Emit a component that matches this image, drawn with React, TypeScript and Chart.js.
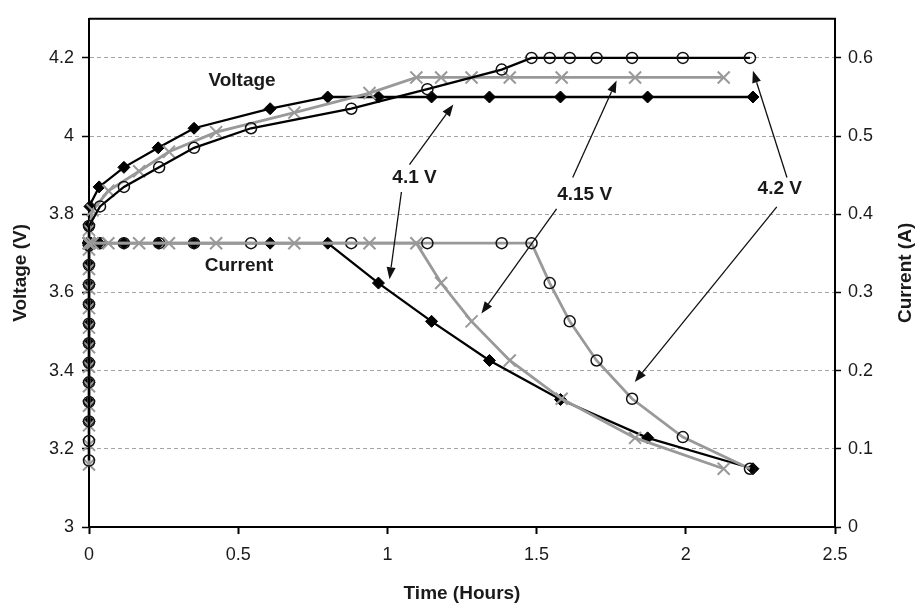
import React, { useEffect, useRef } from "react";
import { Chart, registerables } from "chart.js";

Chart.register(...registerables);

// ---------- tick labels ----------
const X_TICKS = [0, 0.5, 1, 1.5, 2, 2.5];
const V_TICKS = [3, 3.2, 3.4, 3.6, 3.8, 4, 4.2];
const I_TICKS = [0, 0.1, 0.2, 0.3, 0.4, 0.5, 0.6];

// ---------- 4.1 V charge (black diamonds) ----------
const T_41 = [0, 0, 0, 0, 0, 0, 0, 0, 0, 0, 0, 0.003, 0.034, 0.117, 0.232, 0.352, 0.607, 0.8, 0.97, 1.148, 1.342, 1.58, 1.872, 2.225];
const V_41 = [3.27, 3.32, 3.37, 3.42, 3.47, 3.52, 3.57, 3.62, 3.67, 3.72, 3.77, 3.82, 3.87, 3.92, 3.97, 4.02, 4.07, 4.1, 4.1, 4.1, 4.1, 4.1, 4.1, 4.1];
const I_41 = [0.363, 0.363, 0.363, 0.363, 0.363, 0.363, 0.363, 0.363, 0.363, 0.363, 0.363, 0.363, 0.363, 0.363, 0.363, 0.363, 0.363, 0.363, 0.312, 0.263, 0.213, 0.163, 0.114, 0.0745];

// ---------- 4.15 V charge (grey crosses) ----------
const T_415 = [0, 0, 0, 0, 0, 0, 0, 0, 0, 0, 0, 0, 0, 0.012, 0.065, 0.168, 0.268, 0.426, 0.688, 0.94, 1.097, 1.18, 1.282, 1.41, 1.584, 1.83, 2.127];
const V_415 = [3.16, 3.21, 3.26, 3.31, 3.36, 3.41, 3.46, 3.51, 3.56, 3.61, 3.66, 3.71, 3.76, 3.81, 3.86, 3.91, 3.96, 4.01, 4.06, 4.11, 4.15, 4.15, 4.15, 4.15, 4.15, 4.15, 4.15];
const I_415 = [0.363, 0.363, 0.363, 0.363, 0.363, 0.363, 0.363, 0.363, 0.363, 0.363, 0.363, 0.363, 0.363, 0.363, 0.363, 0.363, 0.363, 0.363, 0.363, 0.363, 0.363, 0.312, 0.263, 0.213, 0.164, 0.114, 0.0745];

// ---------- 4.2 V charge (open circles) ----------
const T_42 = [0, 0, 0, 0, 0, 0, 0, 0, 0, 0, 0, 0, 0, 0.037, 0.117, 0.235, 0.352, 0.543, 0.879, 1.134, 1.383, 1.483, 1.544, 1.611, 1.701, 1.82, 1.99, 2.215];
const V_42 = [3.17, 3.22, 3.27, 3.32, 3.37, 3.42, 3.47, 3.52, 3.57, 3.62, 3.67, 3.72, 3.77, 3.82, 3.87, 3.92, 3.97, 4.02, 4.07, 4.12, 4.17, 4.2, 4.2, 4.2, 4.2, 4.2, 4.2, 4.2];
const I_42 = [0.363, 0.363, 0.363, 0.363, 0.363, 0.363, 0.363, 0.363, 0.363, 0.363, 0.363, 0.363, 0.363, 0.363, 0.363, 0.363, 0.363, 0.363, 0.363, 0.363, 0.363, 0.363, 0.312, 0.263, 0.213, 0.164, 0.115, 0.0745];

// ---------- annotations (in data units: time, voltage) ----------
const NOTE_TEXT = ["Voltage", "Current", "4.1 V", "4.15 V", "4.2 V"];
const NOTE_T = [0.513, 0.503, 1.091, 1.661, 2.315];
const NOTE_V = [4.142, 3.667, 3.894, 3.851, 3.864];

const ARROW_FROM_T = [1.074, 1.047, 1.621, 1.567, 2.339, 2.305];
const ARROW_FROM_V = [3.927, 3.857, 3.894, 3.814, 3.894, 3.819];
const ARROW_TO_T = [1.221, 1.007, 1.768, 1.315, 2.225, 1.829];
const ARROW_TO_V = [4.081, 3.634, 4.142, 3.546, 4.167, 3.371];

const FONT_FAMILY = '"Liberation Sans", Arial, Helvetica, sans-serif';
const GRAY = "#999999";
const BLACK = "#000000";
const TEXT = "#1a1a1a";

const pts = (t: number[], v: number[]) => t.map((tt, i) => ({ x: tt, y: v[i] }));
const fmt = (v: any) => String(Math.round(Number(v) * 100) / 100);

const overlayPlugin = {
  id: "overlay",
  afterDatasetsDraw(chart: any) {
    const { ctx, chartArea } = chart;
    const xs = chart.scales.x;
    const ys = chart.scales.y;
    ctx.save();
    // arrows
    ctx.strokeStyle = "#111";
    ctx.fillStyle = "#111";
    ctx.lineWidth = 1.3;
    for (let i = 0; i < ARROW_FROM_T.length; i++) {
      const x1 = xs.getPixelForValue(ARROW_FROM_T[i]);
      const y1 = ys.getPixelForValue(ARROW_FROM_V[i]);
      const x2 = xs.getPixelForValue(ARROW_TO_T[i]);
      const y2 = ys.getPixelForValue(ARROW_TO_V[i]);
      const ang = Math.atan2(y2 - y1, x2 - x1);
      const hl = 12;
      const hw = 4.5;
      const bx = x2 - hl * Math.cos(ang);
      const by = y2 - hl * Math.sin(ang);
      ctx.beginPath();
      ctx.moveTo(x1, y1);
      ctx.lineTo(bx, by);
      ctx.stroke();
      ctx.beginPath();
      ctx.moveTo(x2, y2);
      ctx.lineTo(bx + hw * Math.sin(ang), by - hw * Math.cos(ang));
      ctx.lineTo(bx - hw * Math.sin(ang), by + hw * Math.cos(ang));
      ctx.closePath();
      ctx.fill();
    }
    // labels
    ctx.font = `bold 19px ${FONT_FAMILY}`;
    ctx.textAlign = "center";
    ctx.textBaseline = "middle";
    ctx.fillStyle = TEXT;
    for (let i = 0; i < NOTE_TEXT.length; i++) {
      ctx.fillText(NOTE_TEXT[i], xs.getPixelForValue(NOTE_T[i]), ys.getPixelForValue(NOTE_V[i]));
    }
    // top frame line
    ctx.strokeStyle = BLACK;
    ctx.lineWidth = 2;
    ctx.beginPath();
    ctx.moveTo(chartArea.left, chartArea.top);
    ctx.lineTo(chartArea.right + 1, chartArea.top);
    ctx.stroke();
    // right axis title (reads bottom-to-top)
    ctx.translate(chart.width - 9, (chartArea.top + chartArea.bottom) / 2);
    ctx.rotate(-Math.PI / 2);
    ctx.fillText("Current (A)", 0, 0);
    ctx.restore();
  },
};

export default function App() {
  const ref = useRef<HTMLCanvasElement | null>(null);

  useEffect(() => {
    if (!ref.current) return;
    const tickFont = { family: FONT_FAMILY, size: 18 };
    const titleFont = { family: FONT_FAMILY, size: 19, weight: "bold" as const, lineHeight: 1 };

    const chart = new Chart(ref.current, {
      type: "scatter",
      data: {
        datasets: [
          {
            label: "I 4.15 V",
            data: pts(T_415, I_415),
            yAxisID: "y1",
            showLine: true,
            clip: false,
            borderColor: GRAY,
            borderWidth: 2.8,
            pointStyle: "crossRot",
            pointRadius: 8.5,
            pointBorderColor: GRAY,
            pointBorderWidth: 2,
            pointBackgroundColor: "rgba(0,0,0,0)",
          },
          {
            label: "I 4.2 V",
            data: pts(T_42, I_42),
            yAxisID: "y1",
            showLine: true,
            clip: false,
            borderColor: GRAY,
            borderWidth: 2.8,
            pointStyle: "circle",
            pointRadius: 5.5,
            pointBorderColor: "#111",
            pointBorderWidth: 1.5,
            pointBackgroundColor: "rgba(0,0,0,0)",
          },
          {
            label: "I 4.1 V",
            data: pts(T_41, I_41),
            yAxisID: "y1",
            showLine: true,
            clip: false,
            borderColor: BLACK,
            borderWidth: 2.3,
            pointStyle: "rectRot",
            pointRadius: 6,
            pointBorderColor: BLACK,
            pointBorderWidth: 1,
            pointBackgroundColor: BLACK,
          },
          {
            label: "V 4.2 V",
            data: pts(T_42, V_42),
            yAxisID: "y",
            showLine: true,
            clip: false,
            borderColor: BLACK,
            borderWidth: 2.3,
            pointStyle: "circle",
            pointRadius: 5.5,
            pointBorderColor: "#111",
            pointBorderWidth: 1.5,
            pointBackgroundColor: "rgba(0,0,0,0)",
          },
          {
            label: "V 4.15 V",
            data: pts(T_415, V_415),
            yAxisID: "y",
            showLine: true,
            clip: false,
            borderColor: GRAY,
            borderWidth: 2.8,
            pointStyle: "crossRot",
            pointRadius: 8.5,
            pointBorderColor: GRAY,
            pointBorderWidth: 2,
            pointBackgroundColor: "rgba(0,0,0,0)",
          },
          {
            label: "V 4.1 V",
            data: pts(T_41, V_41),
            yAxisID: "y",
            showLine: true,
            clip: false,
            borderColor: BLACK,
            borderWidth: 2.3,
            pointStyle: "rectRot",
            pointRadius: 6,
            pointBorderColor: BLACK,
            pointBorderWidth: 1,
            pointBackgroundColor: BLACK,
          },
        ],
      },
      options: {
        animation: false,
        responsive: false,
        events: [],
        layout: { padding: { top: 12, left: 0, right: 0, bottom: 0 } },
        plugins: { legend: { display: false }, tooltip: { enabled: false } },
        scales: {
          x: {
            type: "linear",
            position: "bottom",
            min: 0,
            max: 2.5,
            afterFit: (s: any) => {
              s.height = 76;
            },
            afterBuildTicks: (s: any) => {
              s.ticks = X_TICKS.map((v) => ({ value: v }));
            },
            ticks: { font: tickFont, color: TEXT, padding: 10, maxRotation: 0, autoSkip: false, callback: fmt },
            grid: { display: true, drawOnChartArea: false, drawTicks: true, tickLength: 7, tickColor: BLACK, tickWidth: 2 },
            border: { display: true, color: BLACK, width: 2 },
            title: { display: true, text: "Time (Hours)", font: titleFont, color: TEXT, padding: { top: 0, bottom: 0 } },
          },
          y: {
            type: "linear",
            position: "left",
            min: 3,
            max: 4.3,
            afterFit: (s: any) => {
              s.width = 89;
            },
            afterBuildTicks: (s: any) => {
              s.ticks = V_TICKS.map((v) => ({ value: v }));
            },
            ticks: { font: tickFont, color: TEXT, padding: 8, autoSkip: false, callback: fmt },
            grid: {
              display: true,
              drawOnChartArea: true,
              color: (c: any) => (c.tick && Math.abs(c.tick.value - 3) < 1e-9 ? "rgba(0,0,0,0)" : "#a5a5a5"),
              lineWidth: 1,
              tickLength: 7,
              tickColor: BLACK,
              tickWidth: 1.5,
              tickBorderDash: [],
            },
            border: { display: true, color: BLACK, width: 2, dash: [4, 3] },
            title: { display: true, text: "Voltage (V)", font: titleFont, color: TEXT, padding: { top: 11.5, bottom: 0 } },
          },
          y1: {
            type: "linear",
            position: "right",
            min: 0,
            max: 0.65,
            afterFit: (s: any) => {
              s.width = 80;
            },
            afterBuildTicks: (s: any) => {
              s.ticks = I_TICKS.map((v) => ({ value: v }));
            },
            ticks: { font: tickFont, color: TEXT, padding: 7, autoSkip: false, callback: fmt },
            grid: { display: true, drawOnChartArea: false, tickLength: 6, tickColor: BLACK, tickWidth: 1.5 },
            border: { display: true, color: BLACK, width: 2 },
            title: { display: false },
          },
        },
      },
      plugins: [overlayPlugin],
    });
    return () => chart.destroy();
  }, []);

  return (
    <div style={{ position: "fixed", left: 0, top: 0, width: 915, height: 603, background: "#fff" }}>
      <canvas ref={ref} width={915} height={603} style={{ display: "block", width: 915, height: 603 }} />
    </div>
  );
}
